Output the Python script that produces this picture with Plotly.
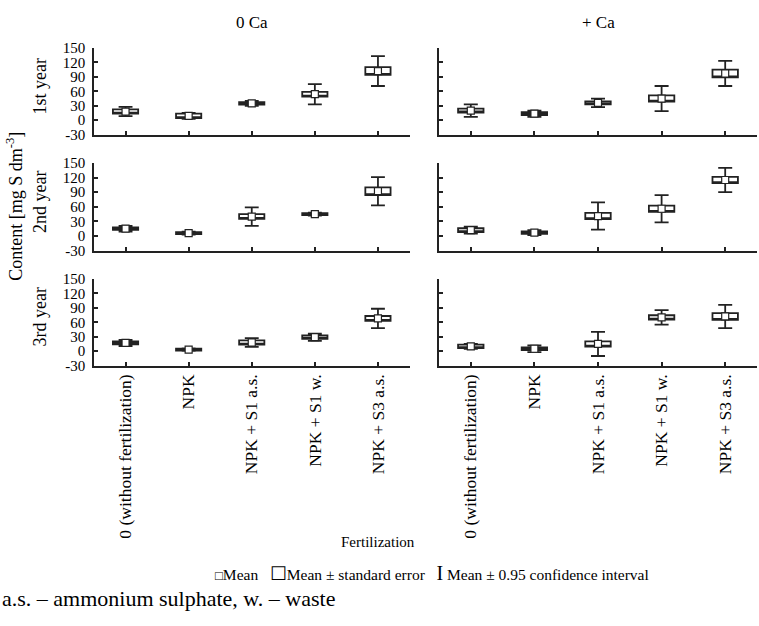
import plotly.graph_objects as go

categories = ["0 (without fertilization)", "NPK", "NPK + S1 a.s.", "NPK + S1 w.", "NPK + S3 a.s."]
years = ["1st year", "2nd year", "3rd year"]
treatments = ["0 Ca", "+ Ca"]

# Means, standard errors and 0.95 confidence half-widths (mg S dm-3)
mean_0ca_y1 = [18, 9, 35, 54, 102]
se_0ca_y1 = [4.5, 4.5, 2.5, 5, 8]
ci_0ca_y1 = [9.5, 6, 5, 21, 31]

mean_ca_y1 = [20, 13.5, 36, 45, 97]
se_ca_y1 = [4, 3, 3, 6.5, 8]
ci_ca_y1 = [13, 6.5, 9, 26, 26]

mean_0ca_y2 = [15, 6, 40, 45, 92]
se_0ca_y2 = [2.5, 2, 5, 2, 8]
ci_0ca_y2 = [6, 3, 19, 3, 29]

mean_ca_y2 = [12, 7, 41, 56, 115]
se_ca_y2 = [4, 2.5, 6.5, 6.5, 6.5]
ci_ca_y2 = [7, 5, 28, 28, 25]

mean_0ca_y3 = [17, 3, 18, 29, 68]
se_0ca_y3 = [3, 2, 4.5, 3.5, 5]
ci_0ca_y3 = [6.5, 2.5, 9, 7.5, 20]

mean_ca_y3 = [10, 5, 15, 70, 72]
se_ca_y3 = [3.5, 3, 5.5, 4.5, 7]
ci_ca_y3 = [5, 7, 25, 15, 24]

y_ticks = [-30, 0, 30, 60, 90, 120, 150]

panels = [
    [(mean_0ca_y1, se_0ca_y1, ci_0ca_y1), (mean_ca_y1, se_ca_y1, ci_ca_y1)],
    [(mean_0ca_y2, se_0ca_y2, ci_0ca_y2), (mean_ca_y2, se_ca_y2, ci_ca_y2)],
    [(mean_0ca_y3, se_0ca_y3, ci_0ca_y3), (mean_ca_y3, se_ca_y3, ci_ca_y3)],
]

W, H = 759, 626
FONT = "Liberation Serif, Times New Roman, serif"
INK = "#222222"

x_domains = [[94 / W, 409.5 / W], [439 / W, 757 / W]]
y_px = [(41, 130), (159, 249), (278, 367)]
y_domains = [[(H - b) / H, (H - t) / H] for t, b in y_px]

fig = go.Figure()
layout = {}
for r in range(3):
    for c in range(2):
        idx = r * 2 + c + 1
        sfx = "" if idx == 1 else str(idx)
        m, se, ci = panels[r][c]
        q1 = [a - b for a, b in zip(m, se)]
        q3 = [a + b for a, b in zip(m, se)]
        lo = [a - b for a, b in zip(m, ci)]
        hi = [a + b for a, b in zip(m, ci)]
        fig.add_trace(go.Box(
            x=categories, q1=q1, median=q1, q3=q3,
            lowerfence=lo, upperfence=hi,
            width=0.4, whiskerwidth=0.55,
            fillcolor="white", line=dict(color=INK, width=1.8),
            boxpoints=False, showlegend=False, hoverinfo="skip",
            xaxis="x" + sfx, yaxis="y" + sfx,
        ))
        fig.add_trace(go.Scatter(
            x=categories, y=m, mode="markers",
            marker=dict(symbol="square", size=7, color="white",
                        line=dict(color=INK, width=1.2)),
            showlegend=False, hoverinfo="skip",
            xaxis="x" + sfx, yaxis="y" + sfx,
        ))
        layout["xaxis" + sfx] = dict(
            domain=x_domains[c], anchor="y" + sfx, type="category",
            categoryorder="array", categoryarray=categories,
            range=[-0.5, 4.5], showline=True, linecolor=INK, linewidth=1.5,
            ticks="inside", ticklen=4, tickcolor=INK, tickwidth=1.5,
            showgrid=False, zeroline=False, showticklabels=(r == 2),
            tickangle=-90, tickfont=dict(family=FONT, size=17.5, color="black"),
        )
        layout["yaxis" + sfx] = dict(
            domain=y_domains[r], anchor="x" + sfx,
            range=[-30, 150], tickvals=y_ticks, ticktext=[str(v) for v in y_ticks],
            showline=True, linecolor=INK, linewidth=1.5,
            ticks="inside", ticklen=4, tickcolor=INK, tickwidth=1.5,
            ticklabelstandoff=4,
            showgrid=False, zeroline=False, showticklabels=(c == 0),
            tickfont=dict(family=FONT, size=15, color="black"),
        )

annotations = []
for c, t in enumerate(treatments):
    annotations.append(dict(
        text=t, x=sum(x_domains[c]) / 2, y=(H - 15) / H, xref="paper", yref="paper",
        showarrow=False, font=dict(family=FONT, size=17, color="black"),
        xanchor="center", yanchor="middle"))
for r, yl in enumerate(years):
    cy = (y_px[r][0] + y_px[r][1]) / 2 - 5
    annotations.append(dict(
        text=yl, x=40 / W, y=(H - cy) / H, xref="paper", yref="paper",
        showarrow=False, textangle=-90, font=dict(family=FONT, size=18, color="black"),
        xanchor="center", yanchor="middle"))
annotations.append(dict(
    text="Content [mg S dm<sup>-3</sup>]", x=15 / W, y=(H - 204) / H,
    xref="paper", yref="paper", showarrow=False, textangle=-90,
    font=dict(family=FONT, size=18, color="black"), xanchor="center", yanchor="middle"))
annotations.append(dict(
    text="Fertilization", x=378 / W, y=(H - 548) / H, xref="paper", yref="paper",
    showarrow=False, font=dict(family=FONT, size=15, color="black"),
    xanchor="center", yanchor="middle"))
annotations.append(dict(
    text="<span style='font-size:13px'>□</span>Mean   "
         "<span style='font-size:19px'>☐</span>Mean ± standard error   "
         "<span style='font-size:20px'>I</span> Mean ± 0.95 confidence interval",
    x=432 / W, y=(H - 580) / H, xref="paper", yref="paper", showarrow=False,
    font=dict(family=FONT, size=15.5, color="black"), xanchor="center", yanchor="middle"))
annotations.append(dict(
    text="a.s. – ammonium sulphate, w. – waste", x=0, y=(H - 606) / H,
    xref="paper", yref="paper", showarrow=False,
    font=dict(family=FONT, size=22, color="black"), xanchor="left", yanchor="middle"))

fig.update_layout(
    width=W, height=H, margin=dict(l=0, r=0, t=0, b=0),
    paper_bgcolor="white", plot_bgcolor="white",
    font=dict(family=FONT, color="black"),
    annotations=annotations, **layout,
)

fig.write_html("out.html")
